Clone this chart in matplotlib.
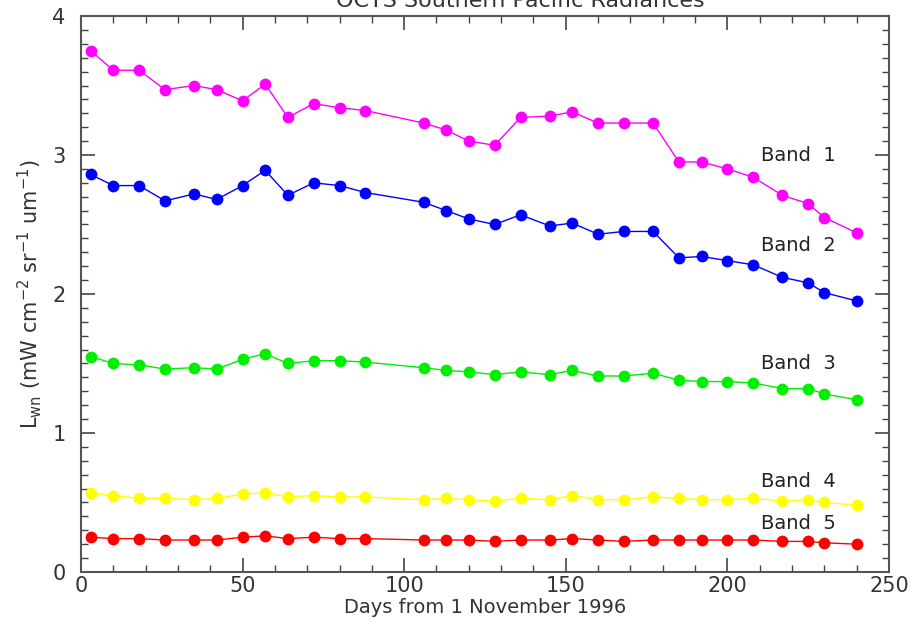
import matplotlib
matplotlib.use('Agg')
from matplotlib import pyplot as plt
from matplotlib.ticker import MultipleLocator

# days from 1 November 1996 (8-day composites)
days = [3, 10, 18, 26, 35, 42, 50, 57, 64, 72, 80, 88, 106, 113, 120,
        128, 136, 145, 152, 160, 168, 177, 185, 192, 200, 208, 217, 225, 230, 240]

band1 = [3.75, 3.61, 3.61, 3.47, 3.50, 3.47, 3.39, 3.51, 3.27, 3.37, 3.34, 3.32, 3.23, 3.18, 3.10,
         3.07, 3.27, 3.28, 3.31, 3.23, 3.23, 3.23, 2.95, 2.95, 2.90, 2.84, 2.71, 2.65, 2.55, 2.44]
band2 = [2.86, 2.78, 2.78, 2.67, 2.72, 2.68, 2.78, 2.89, 2.71, 2.80, 2.78, 2.73, 2.66, 2.60, 2.54,
         2.50, 2.57, 2.49, 2.51, 2.43, 2.45, 2.45, 2.26, 2.27, 2.24, 2.21, 2.12, 2.08, 2.01, 1.95]
band3 = [1.55, 1.50, 1.49, 1.46, 1.47, 1.46, 1.53, 1.57, 1.50, 1.52, 1.52, 1.51, 1.47, 1.45, 1.44,
         1.42, 1.44, 1.42, 1.45, 1.41, 1.41, 1.43, 1.38, 1.37, 1.37, 1.36, 1.32, 1.32, 1.28, 1.24]
band4 = [0.57, 0.55, 0.53, 0.53, 0.52, 0.53, 0.56, 0.57, 0.54, 0.55, 0.54, 0.54, 0.52, 0.53, 0.52,
         0.51, 0.53, 0.52, 0.55, 0.52, 0.52, 0.54, 0.53, 0.52, 0.52, 0.53, 0.51, 0.52, 0.50, 0.48]
band5 = [0.25, 0.24, 0.24, 0.23, 0.23, 0.23, 0.25, 0.26, 0.24, 0.25, 0.24, 0.24, 0.23, 0.23, 0.23,
         0.22, 0.23, 0.23, 0.24, 0.23, 0.22, 0.23, 0.23, 0.23, 0.23, 0.23, 0.22, 0.22, 0.21, 0.20]

series = [band1, band2, band3, band4, band5]
names = ['Band  1', 'Band  2', 'Band  3', 'Band  4', 'Band  5']
colors = ['#ff00ff', '#0000ff', '#00ee00', '#ffff00', '#ff0000']
label_y = [3.0, 2.35, 1.50, 0.65, 0.35]

plt.rcParams['font.family'] = 'DejaVu Sans'
fig = plt.figure(figsize=(9.16, 6.23), dpi=100)
ax = fig.add_axes([0.0884, 0.0819, 0.8821, 0.8924])

for ys, c, name, ly in zip(series, colors, names, label_y):
    ax.plot(days, ys, color=c, linewidth=1.0, marker='o', markersize=8.5,
            markeredgewidth=0)
    ax.text(210.5, ly, name, fontsize=14, color='#222222', va='center', ha='left')

ax.set_xlim(0, 250)
ax.set_ylim(0, 4)
ax.xaxis.set_major_locator(MultipleLocator(50))
ax.xaxis.set_minor_locator(MultipleLocator(10))
ax.yaxis.set_major_locator(MultipleLocator(1))
ax.yaxis.set_minor_locator(MultipleLocator(0.1))
ax.tick_params(which='both', direction='in', top=True, right=True,
               colors='#444444', labelcolor='#333333', labelsize=15)
ax.tick_params(which='major', length=10, width=1.2)
ax.tick_params(which='minor', length=5, width=1.0)
ax.tick_params(axis='x', pad=3)
ax.tick_params(axis='y', pad=11)
for s in ax.spines.values():
    s.set_color('#555555')
    s.set_linewidth(1.5)

ax.set_xlabel('Days from 1 November 1996', fontsize=14, color='#333333', labelpad=1)
ax.set_ylabel(r'L$_{\rm wn}$ (mW cm$^{-2}$ sr$^{-1}$ um$^{-1}$)', fontsize=15,
              color='#333333', labelpad=6)

fig.text(0.568, 0.989, 'OCTS Southern Pacific Radiances', fontsize=16,
         color='#333333', ha='center', va='baseline')

fig.savefig('out.png', dpi=100)
